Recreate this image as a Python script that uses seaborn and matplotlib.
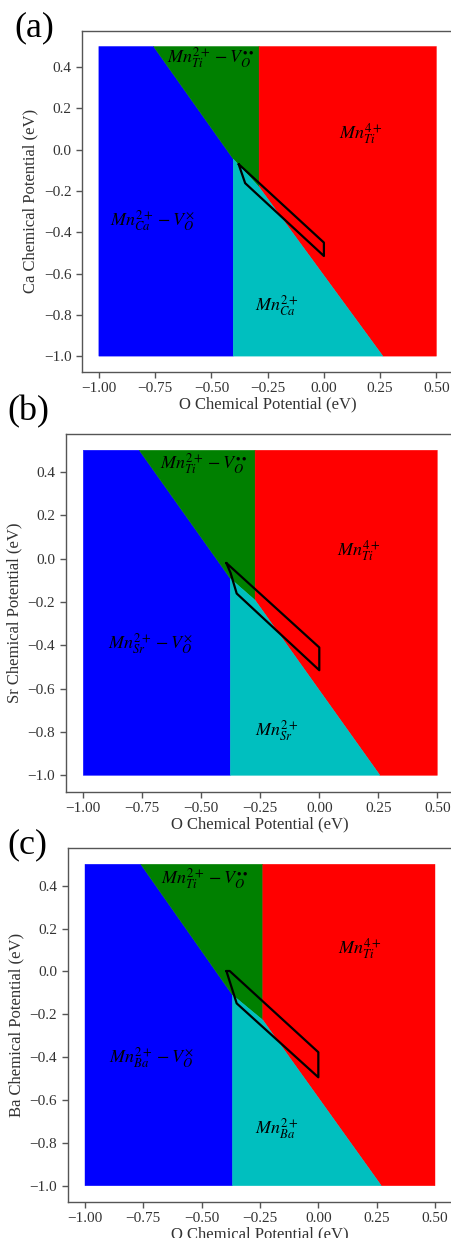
import matplotlib
matplotlib.use("Agg")
import matplotlib.pyplot as plt
import seaborn as sns
import pandas as pd

# Host A-site element of each perovskite (ATiO3)
elements = ["Ca", "Sr", "Ba"]
panel_tags = ["(a)", "(b)", "(c)"]

# Phase-boundary points (eV) of the Mn defect stability map
x_vac = [-0.403, -0.377, -0.368]     # Mn_A-V_O / Mn_A boundary (mu_O)
x_ox = [-0.288, -0.272, -0.238]      # Mn_Ti(2+)-V_O / Mn_Ti(4+) boundary (mu_O)
x_top = [-0.757, -0.763, -0.761]     # A/Ti-site line where mu_A = 0.5
y_kink = [-0.045, -0.092, -0.110]    # A/Ti-site line at x_vac
y_tip = [-0.181, -0.192, -0.227]     # lower corner of the Mn_Ti(2+)-V_O field
x_bottom = [0.262, 0.257, 0.270]     # Mn_A / Mn_Ti(4+) line where mu_A = -1.0

# Stable growth window of each compound
win_x = [
    [-0.379, -0.350, 0.000, 0.000, -0.379],
    [-0.394, -0.376, -0.350, 0.000, 0.000, -0.394],
    [-0.394, -0.350, 0.000, 0.000, -0.380, -0.394],
]
win_y = [
    [-0.070, -0.162, -0.515, -0.450, -0.070],
    [-0.020, -0.066, -0.161, -0.515, -0.410, -0.020],
    [0.002, -0.149, -0.494, -0.377, 0.002, 0.002],
]

mu_min, mu_max = -1.0, 0.5
x_ticks = [-1.00, -0.75, -0.50, -0.25, 0.00, 0.25, 0.50]
y_ticks = [-1.0, -0.8, -0.6, -0.4, -0.2, 0.0, 0.2, 0.4]

sns.set_theme(style="ticks")
plt.rcParams["font.family"] = ["Liberation Serif", "DejaVu Serif"]
plt.rcParams["mathtext.fontset"] = "stix"
plt.rcParams["axes.edgecolor"] = "#555555"
plt.rcParams["axes.linewidth"] = 1.0
plt.rcParams["xtick.color"] = "#555555"
plt.rcParams["ytick.color"] = "#555555"
plt.rcParams["xtick.labelcolor"] = "#333333"
plt.rcParams["ytick.labelcolor"] = "#333333"

W, H = 451, 1238
fig = plt.figure(figsize=(W / 100, H / 100), dpi=100)

# axes boxes in pixels: left, top, width, height
boxes = [
    (82.0, 31.0, 371.3, 340.6),
    (65.6, 434.0, 389.4, 357.6),
    (67.5, 848.2, 385.0, 353.6),
]
tag_pos = [(34, 28), (28, 412), (27, 845)]

colors = {"blue": "#0000ff", "green": "#008000", "red": "#ff0000", "cyan": "#00bfbf"}

label_xy = [
    [(-0.502, 0.448), (0.162, 0.077), (-0.762, -0.343), (-0.209, -0.755)],
    [(-0.489, 0.439), (0.169, 0.039), (-0.714, -0.392), (-0.181, -0.795)],
    [(-0.486, 0.435), (0.179, 0.108), (-0.715, -0.400), (-0.178, -0.732)],
]

for i, el in enumerate(elements):
    l, t, w, h = boxes[i]
    ax = fig.add_axes([l / W, 1 - (t + h) / H, w / W, h / H])

    xv, xo, xt, yk, yt, xb = x_vac[i], x_ox[i], x_top[i], y_kink[i], y_tip[i], x_bottom[i]
    regions = [
        ("blue", [mu_min, xt, xv, xv, mu_min], [mu_max, mu_max, yk, mu_min, mu_min]),
        ("green", [xt, xo, xo, xv], [mu_max, mu_max, yt, yk]),
        ("red", [xo, mu_max, mu_max, xb, xo], [mu_max, mu_max, mu_min, mu_min, yt]),
        ("cyan", [xv, xo, xb, xv], [yk, yt, mu_min, mu_min]),
    ]
    for cname, px, py in regions:
        ax.fill(px, py, facecolor=colors[cname], edgecolor=colors[cname], lw=0.3, zorder=1)

    win = pd.DataFrame({"mu_O": win_x[i], "mu_A": win_y[i]})
    sns.lineplot(data=win, x="mu_O", y="mu_A", sort=False, estimator=None,
                 color="black", lw=1.6, ax=ax, zorder=3)

    texts = [
        r"$Mn_{Ti}^{2+}-V_O^{\bullet\bullet}$",
        r"$Mn_{Ti}^{4+}$",
        r"$Mn_{%s}^{2+}-V_O^{\times}$" % el,
        r"$Mn_{%s}^{2+}$" % el,
    ]
    for txt, (tx, ty) in zip(texts, label_xy[i]):
        ax.text(tx, ty, txt, ha="center", va="center", fontsize=13, color="black", zorder=4)

    ax.set_xlim(-1.075, 0.575)
    ax.set_ylim(-1.075, 0.575)
    ax.set_xticks(x_ticks)
    ax.set_xticklabels([f"{v:.2f}".replace("-", "\u2212") for v in x_ticks])
    ax.set_yticks(y_ticks)
    ax.set_yticklabels([f"{v:.1f}".replace("-", "\u2212") for v in y_ticks])
    ax.tick_params(labelsize=11, length=4, width=1)
    ax.set_xlabel("O Chemical Potential (eV)", fontsize=12, color="#333333", labelpad=1)
    ax.set_ylabel(f"{el} Chemical Potential (eV)", fontsize=12, color="#333333", labelpad=4)
    for s in ax.spines.values():
        s.set_visible(True)

    fig.text(tag_pos[i][0] / W, 1 - tag_pos[i][1] / H, panel_tags[i],
             ha="center", va="center", fontsize=26, color="black")

fig.savefig("out.png", dpi=100)
